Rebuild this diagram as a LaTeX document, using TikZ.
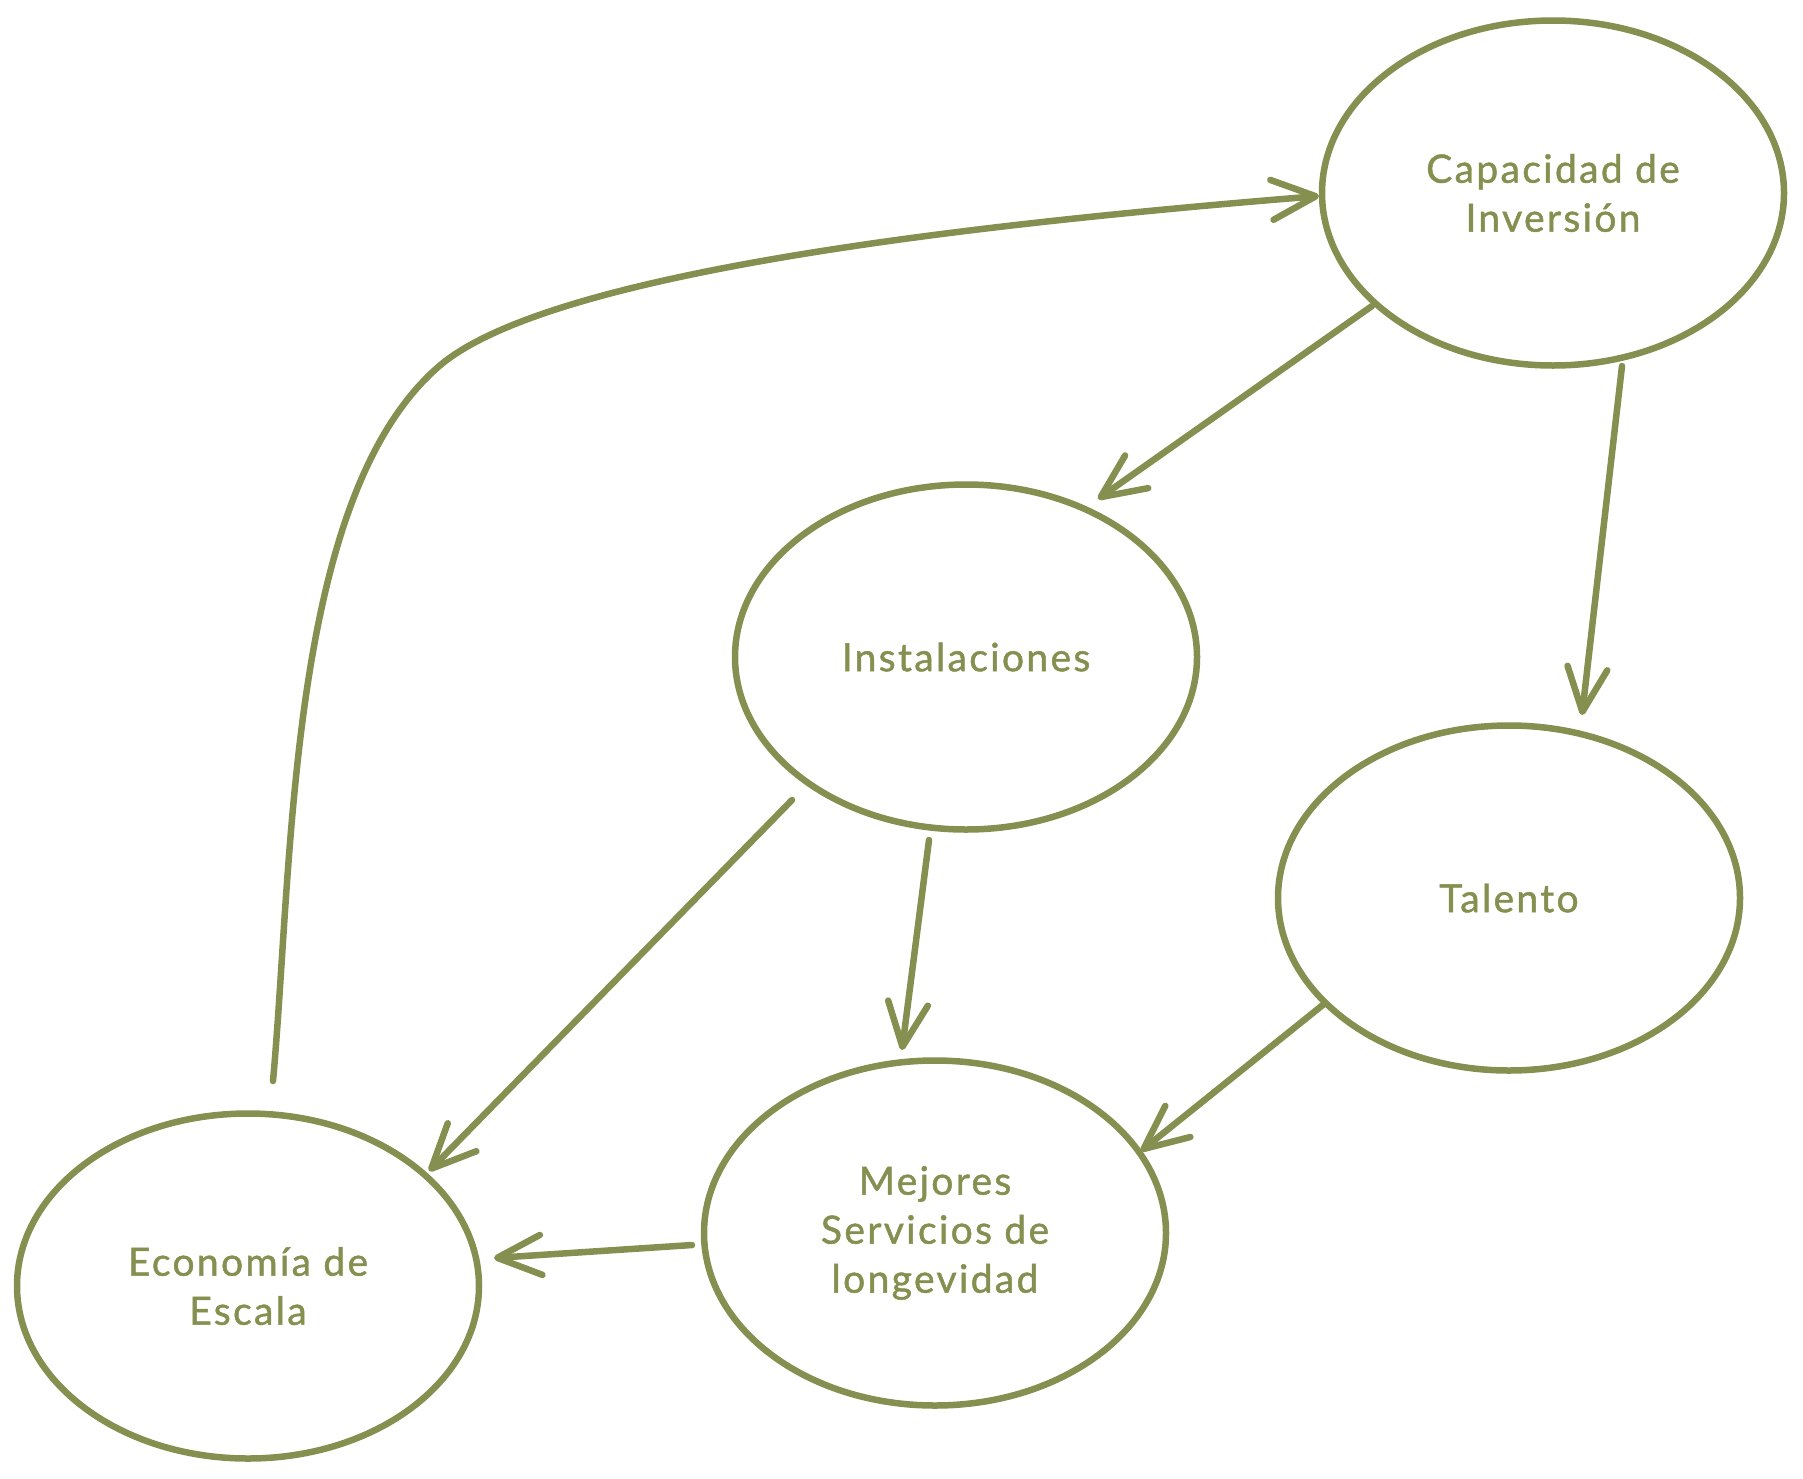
\documentclass[tikz,border=0pt]{standalone}
\usepackage{fontspec}
\setmainfont{Lato}[LetterSpace=6,FakeBold=1.2]
\usetikzlibrary{shapes.geometric,arrows.meta}
\definecolor{olive}{RGB}{132,143,80}
\tikzset{
  bubble/.style={ellipse, draw=olive, line width=6.5pt, minimum width=462pt, minimum height=345pt, inner sep=0pt, text=olive, align=center, font=\fontsize{39}{49}\selectfont},
  conn/.style={draw=olive, line width=6.5pt, line cap=round, line join=round, -{Straight Barb[length=44pt, width=40pt, line cap=round, line join=round]}}
}
\begin{document}
\begin{tikzpicture}[x=1pt,y=-1pt]
\useasboundingbox (0,0) rectangle (1803,1478);
\node[bubble] (cap) at (1553,193) {Capacidad de\\Inversión};
\node[bubble] (inst) at (966,657) {Instalaciones};
\node[bubble] (tal) at (1509,898) {Talento};
\node[bubble] (mej) at (935,1233) {Mejores\\Servicios de\\longevidad};
\node[bubble] (eco) at (248,1286) {Economía de\\Escala};
\draw[conn] ([shift={(25,-205)}]eco.center) .. controls (293,860) and (288,500) .. (437,368) .. controls (547,269) and (1000,222) .. ([shift={(-234,3)}]cap.center);
\draw[conn] ([shift={(-181,113)}]cap.center) -- ([shift={(132,-158)}]inst.center);
\draw[conn] ([shift={(69,173)}]cap.center) -- ([shift={(73,-183)}]tal.center);
\draw[conn] ([shift={(-37,183)}]inst.center) -- ([shift={(-33,-183)}]mej.center);
\draw[conn] ([shift={(-174,143)}]inst.center) -- ([shift={(181,-115)}]eco.center);
\draw[conn] ([shift={(-185,106)}]tal.center) -- ([shift={(206,-82)}]mej.center);
\draw[conn] ([shift={(-243,12)}]mej.center) -- ([shift={(246,-28)}]eco.center);
\end{tikzpicture}
\end{document}
